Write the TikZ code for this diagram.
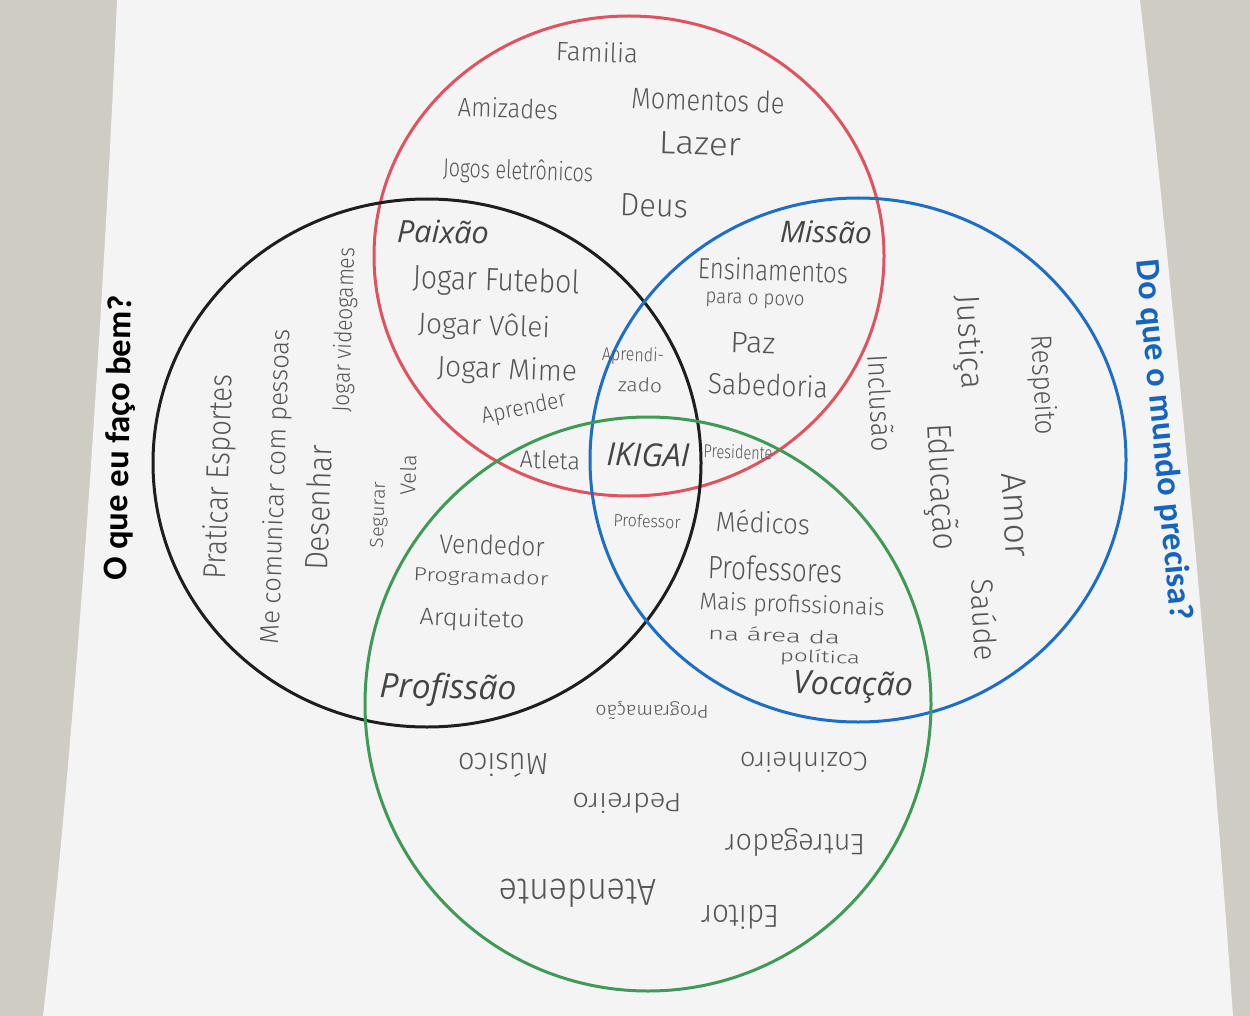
\documentclass[tikz,border=0pt]{standalone}
\usepackage{fontspec}
\usepackage{graphicx}
\setmainfont{Open Sans}
\newfontfamily\hand{Fira Sans Light}
\newfontfamily\tagfont{Open Sans}
\newfontfamily\askfont{Carlito}

\definecolor{desk}{HTML}{CFCCC4}
\definecolor{sheet}{HTML}{F4F4F4}
\definecolor{ringred}{HTML}{E0525E}
\definecolor{ringblack}{HTML}{1E1E1E}
\definecolor{ringblue}{HTML}{1C6EC6}
\definecolor{ringgreen}{HTML}{3E9A55}
\definecolor{ink}{HTML}{555555}
\definecolor{tagink}{HTML}{444444}
\definecolor{askblue}{HTML}{1565C0}

% handwritten word: target length, ascender height, text
\newcommand\hw[3]{\resizebox{#1pt}{#2pt}{\hand\vphantom{Hd}#3}}
% printed italic label scaled to a target length
\newcommand\tagtxt[2]{\resizebox{#1pt}{!}{\tagfont\itshape #2}}
% printed bold question scaled to a target length
\newcommand\asktxt[2]{\resizebox{#1pt}{!}{\askfont\bfseries #2}}

\begin{document}
\begin{tikzpicture}[x=1pt,y=-1pt,
  ring/.style={line width=3pt},
  note/.style={text=ink, inner sep=0pt, rotate=-2},
  upnote/.style={text=ink, inner sep=0pt, rotate=88},
  downnote/.style={text=ink, inner sep=0pt, rotate=-87},
  flipnote/.style={text=ink, inner sep=0pt, rotate=180},
  areatag/.style={text=tagink, inner sep=0pt, rotate=-1}]

\useasboundingbox (0,0) rectangle (1250,1016);
% desk and sheet of paper
\fill[desk] (0,0) rectangle (1250,1016);
\fill[sheet] (117,0) .. controls (108,220) and (80,700) .. (43,1016)
  -- (1233,1016) .. controls (1205,620) and (1165,220) .. (1140,0) -- cycle;

% the four rings
\draw[ring, ringred]   (629,256) ellipse [x radius=255, y radius=240];
\draw[ring, ringblack] (427,463) ellipse [x radius=274, y radius=264];
\draw[ring, ringblue]  (858,460) ellipse [x radius=268, y radius=262];
\draw[ring, ringgreen] (648,704) ellipse [x radius=283, y radius=287];

% questions beside the rings
\node[rotate=89, inner sep=0pt] (fazbem) at (120,438) {\asktxt{285}{O que eu faço bem?}};
\node[rotate=-84.5, text=askblue, inner sep=0pt] (precisa) at (1163,440) {\asktxt{362}{Do que o mundo precisa?}};

% area labels
\node[areatag] (paixao) at (443,232) {\tagtxt{92}{Paixão}};
\node[areatag] (missao) at (826,232) {\tagtxt{92}{Missão}};
\node[areatag] (ikigai) at (648,455) {\tagtxt{83}{IKIGAI}};
\node[areatag] (profissao) at (448,690) {\tagtxt{137}{Profissão}};
\node[areatag] (vocacao) at (853,687) {\tagtxt{120}{Vocação}};

% red ring
\node[note] (familia) at (597,52) {\hw{82}{20}{Familia}};
\node[note] (amizades) at (508,108) {\hw{100}{20}{Amizades}};
\node[note] (momentos) at (708,100) {\hw{153}{22}{Momentos de}};
\node[note] (lazer) at (700,143) {\hw{82}{24}{Lazer}};
\node[note] (jogos) at (518,172) {\hw{150}{20}{Jogos eletrônicos}};
\node[note] (deus) at (654,205) {\hw{68}{24}{Deus}};

% red and black
\node[note] (futebol) at (496,282) {\hw{167}{24}{Jogar Futebol}};
\node[note] (volei) at (484,327) {\hw{132}{22}{Jogar Vôlei}};
\node[note] (mime) at (507,371) {\hw{140}{22}{Jogar Mime}};
\node[text=ink, inner sep=0pt, rotate=12] (aprender) at (524,409) {\hw{86}{17}{Aprender}};

% centre
\node[note] (aprendi) at (633,356) {\hw{62}{14}{Aprendi-}};
\node[note] (zado) at (640,385) {\hw{44}{14}{zado}};
\node[note] (atleta) at (550,460) {\hw{60}{18}{Atleta}};
\node[note] (presidente) at (738,452) {\hw{69}{14}{Presidente}};
\node[note] (professor) at (647,521) {\hw{67}{13}{Professor}};

% red and blue
\node[note] (ensinamentos) at (773,270) {\hw{150}{22}{Ensinamentos}};
\node[note] (povo) at (755,299) {\hw{99}{15}{para o povo}};
\node[note] (paz) at (753,342) {\hw{45}{22}{Paz}};
\node[note] (sabedoria) at (768,385) {\hw{120}{22}{Sabedoria}};

% blue ring
\node[downnote] (inclusao) at (881,403) {\hw{97}{22}{Inclusão}};
\node[downnote] (justica) at (968,342) {\hw{95}{24}{Justiça}};
\node[downnote] (respeito) at (1042,385) {\hw{100}{22}{Respeito}};
\node[downnote] (educacao) at (940,487) {\hw{127}{26}{Educação}};
\node[downnote] (amor) at (1017,515) {\hw{85}{26}{Amor}};
\node[downnote] (saude) at (985,620) {\hw{82}{24}{Saúde}};

% black ring
\node[upnote] (praticar) at (220,477) {\hw{205}{24}{Praticar Esportes}};
\node[upnote] (comunicar) at (277,487) {\hw{315}{20}{Me comunicar com pessoas}};
\node[upnote] (desenhar) at (318,508) {\hw{125}{24}{Desenhar}};
\node[upnote] (videogames) at (345,330) {\hw{164}{18}{Jogar videogames}};
\node[upnote] (segurar) at (379,515) {\hw{66}{14}{Segurar}};
\node[upnote] (vela) at (408,475) {\hw{40}{16}{Vela}};

% black and green
\node[note] (vendedor) at (492,545) {\hw{105}{20}{Vendedor}};
\node[note] (programador) at (481,578) {\hw{135}{14}{Programador}};
\node[note] (arquiteto) at (472,620) {\hw{105}{18}{Arquiteto}};

% blue and green
\node[note] (medicos) at (763,522) {\hw{94}{22}{Médicos}};
\node[note] (professores) at (775,569) {\hw{134}{24}{Professores}};
\node[note] (maisprof) at (792,606) {\hw{185}{18}{Mais profissionais}};
\node[note] (naarea) at (774,635) {\hw{132}{14}{na área da}};
\node[note] (politica) at (820,658) {\hw{80}{13}{política}};

% green ring, written upside down
\node[flipnote] (programacao) at (652,710) {\hw{113}{14}{Programação}};
\node[flipnote] (musico) at (503,765) {\hw{90}{24}{Músico}};
\node[flipnote] (cozinheiro) at (804,762) {\hw{128}{20}{Cozinheiro}};
\node[flipnote] (pedreiro) at (627,803) {\hw{109}{20}{Pedreiro}};
\node[flipnote] (entregador) at (795,842) {\hw{140}{22}{Entregador}};
\node[flipnote] (atendente) at (578,893) {\hw{157}{28}{Atendente}};
\node[flipnote] (editor) at (740,917) {\hw{78}{24}{Editor}};
\end{tikzpicture}
\end{document}
